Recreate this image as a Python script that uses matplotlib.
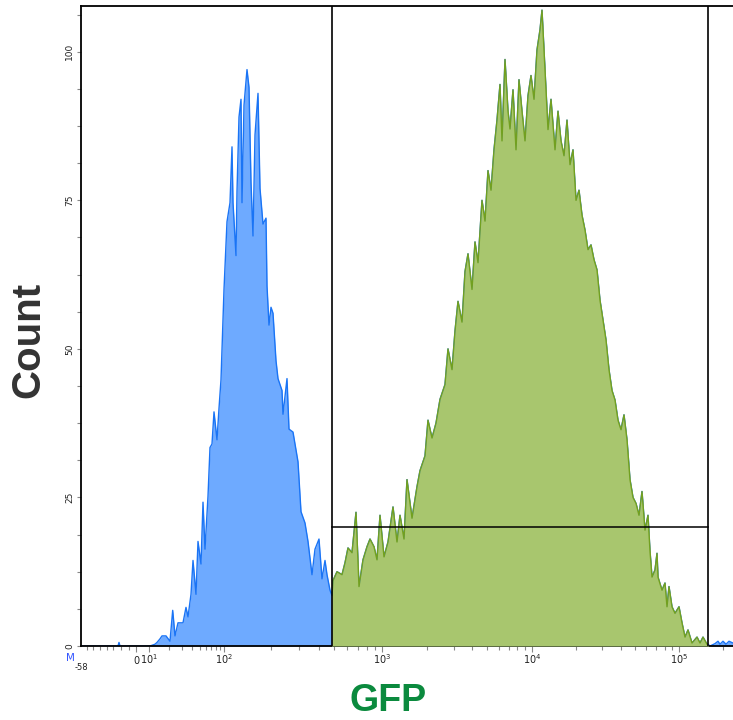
import numpy as np
import matplotlib
matplotlib.use("Agg")
import matplotlib.pyplot as plt
from matplotlib.patches import Rectangle
from matplotlib.ticker import FixedLocator, FixedFormatter

# ---------------- data ----------------
# display channel (0 = left edge of axis, -58) and event count per channel
channel = [0, 37, 38, 39, 41, 69, 74, 76, 79, 81, 85, 89, 91.7, 94, 97, 102, 105, 107, 110,
           112, 115, 117, 120, 122, 124, 127, 129, 131, 133, 136, 138, 140, 142, 143, 146, 149,
           151, 152, 155, 156, 158, 160, 161, 163, 166, 168, 170, 172, 174, 177, 179, 182, 185,
           186, 188, 190, 192, 195, 197, 201, 202, 206, 208, 212, 217, 220, 224, 227, 231, 234,
           238, 241, 244, 246, 249, 251,
           252, 256, 261, 264, 267, 271, 275, 278, 282, 286, 289, 293, 296, 299, 303, 307, 312,
           316, 319, 323, 326, 331, 336, 339, 344, 347, 351, 355, 359, 364, 367, 371, 374, 377,
           381, 384, 387, 391, 394, 397, 401, 404, 407, 410, 413, 416, 419, 421, 424, 427, 429,
           432, 435, 438, 441, 444, 447, 450, 453, 456, 459, 461, 464, 467, 470, 474, 477, 480,
           483, 486, 489, 492, 495, 498, 501, 504, 507, 510, 513, 516, 519, 522, 525, 528, 531,
           534, 537, 540, 543, 546, 549, 552, 555, 558, 561, 564, 567, 569, 571, 574, 576, 577,
           581, 584, 586, 588, 591, 594, 598, 601, 604, 607, 611, 616, 619, 622, 626, 627,
           629, 634, 637, 639, 642, 645, 648, 652]
count = [0, 0, 0.6, 0, 0, 0, 0.3, 0.6, 1.2, 1.7, 1.7, 0.8, 6.0, 1.7, 3.9, 3.9, 6.5, 4.9, 8.7,
         14.4, 8.7, 17.6, 13.8, 24.2, 16.3, 25.2, 33.4, 34.0, 39.4, 34.7, 40.0, 44.8, 55.0, 60.0,
         71.4, 74.6, 84.0, 74.6, 65.7, 76.5, 89.0, 92.0, 74.6, 91.0, 97.0, 94.0, 78.0, 69.0, 86.0,
         93.0, 77.0, 71.0, 72.0, 60.6, 54.0, 57.0, 56.0, 48.0, 45.0, 43.0, 39.0, 45.0, 36.5,
         36.0, 31.0, 22.6, 20.7, 17.6, 12.0, 16.3, 18.0, 11.3, 14.4, 12.0, 9.4, 8.5,
         11.0, 12.5, 12.0, 14.0, 16.5, 15.7, 22.5, 10.0, 14.5, 16.7, 18.0, 16.7, 14.5, 22.0,
         15.0, 17.5, 23.4, 17.5, 22.0, 18.0, 28.0, 21.5, 26.8, 29.5, 32.0, 38.0, 35.0, 37.5,
         41.5, 44.0, 50.0, 46.5, 53.0, 58.0, 54.5, 63.0, 66.0, 60.0, 68.0, 64.5, 75.0, 71.5,
         80.0, 76.7, 83.5, 88.5, 94.5, 85.0, 98.7, 90.0, 87.0, 93.6, 83.5, 95.3, 90.0, 85.0,
         92.6, 96.0, 92.0, 100.3, 103.7, 107.0, 97.0, 86.9, 92.0, 83.5, 90.0, 85.0, 82.5, 88.5,
         81.0, 83.5, 75.0, 76.7, 72.5, 70.0, 66.7, 67.5, 65.0, 63.3, 58.2, 54.9, 51.5, 46.5,
         43.0, 41.4, 38.0, 36.4, 38.9, 34.7, 28.0, 25.0, 24.0, 22.0, 26.0, 19.5, 22.0, 16.0,
         11.6, 12.8, 15.6, 11.6, 9.4, 10.6, 6.6, 10.0, 6.6, 5.5, 6.6, 3.9, 1.5, 2.7, 0.5, 1.5,
         0.5, 1.5, 0.3, 0.3,
         0, 0.4, 0.8, 0.3, 0.8, 0.3, 0.8, 0.5]

gate_low = 483
gate_high = 157000
gate_level = 20

y_ticks = [0, 25, 50, 75, 100]
x_major = [0, 10, 100, 1000, 10000, 100000]
x_major_labels = ["0", r"$10^1$", r"$10^2$", r"$10^3$", r"$10^4$", r"$10^5$"]
x_minor_negative = [-44, -34, -24, -17, -12, -7, -3]

# ------------- biexponential-like display scale -------------
anchor_vals = np.array([-58, 0, 10, 100, 1e3, 1e4, 1e5, 1e6])
anchor_chan = np.array([0, 55, 68, 143, 301, 451, 598, 745], dtype=float)


def g(v):
    return np.arcsinh(np.asarray(v, dtype=float) / 10.0) / np.log(10)


def ginv(u):
    return 10.0 * np.sinh(np.asarray(u, dtype=float) * np.log(10))


anchor_g = g(anchor_vals)


def forward(v):
    return np.interp(g(v), anchor_g, anchor_chan, left=-1e3, right=2e3)


def inverse(c):
    return ginv(np.interp(c, anchor_chan, anchor_g))


x_vals = inverse(np.array(channel, dtype=float))
y_vals = np.array(count)

# ---------------- figure ----------------
W, H = 733, 720
fig = plt.figure(figsize=(W / 100, H / 100), dpi=100)
ax = fig.add_axes([81 / W, (H - 646) / H, (W - 81) / W, 640 / H])
ax.set_xscale("function", functions=(forward, inverse))
ax.set_xlim(-58, float(inverse(652)))
ax.set_ylim(0, 107.7)

blue_fill = "#6eaaff"
blue_line = "#1a74f5"
green_fill = "#a8c66e"
green_line = "#72a020"

ax.fill_between(x_vals, 0, y_vals, color=blue_fill, lw=0, zorder=1)
ax.plot(x_vals, y_vals, color=blue_line, lw=1.0, zorder=2)

clip = Rectangle((gate_low, 0), gate_high - gate_low, 200, transform=ax.transData)
gf = ax.fill_between(x_vals, 0, y_vals, color=green_fill, lw=0, zorder=3)
gf.set_clip_path(clip)
gl, = ax.plot(x_vals, y_vals, color=green_line, lw=1.0, zorder=4)
gl.set_clip_path(clip)

# gate marker
ax.axvline(gate_low, color="black", lw=1.2, zorder=5)
ax.axvline(gate_high, color="black", lw=1.2, zorder=5)
ax.plot([gate_low, gate_high], [gate_level, gate_level], color="black", lw=1.1, zorder=5)

for s in ["left", "bottom", "top"]:
    ax.spines[s].set_linewidth(1.3)
    ax.spines[s].set_color("black")
ax.spines["right"].set_visible(False)

# y axis ticks
ax.yaxis.set_major_locator(FixedLocator(y_ticks))
ax.yaxis.set_minor_locator(FixedLocator(np.arange(0, 107.7, 6.25)))
ax.set_yticklabels([str(t) for t in y_ticks], rotation=90, va="center",
                   fontsize=6.5, family="DejaVu Sans", color="#222222")
ax.tick_params(axis="y", which="major", length=3, width=0.8, color="#888888", pad=2)
ax.tick_params(axis="y", which="minor", length=3, width=0.8, color="#888888")

# x axis ticks
ax.xaxis.set_major_locator(FixedLocator(x_major))
ax.xaxis.set_major_formatter(FixedFormatter(x_major_labels))
minors = list(x_minor_negative)
for d in [10, 100, 1000, 10000, 100000]:
    minors += [k * d for k in range(2, 10)]
ax.xaxis.set_minor_locator(FixedLocator(minors))
ax.tick_params(axis="x", which="major", length=4, width=0.8, color="#888888", pad=9,
               labelsize=7)
ax.tick_params(axis="x", which="minor", length=3, width=0.8, color="#888888")
for lab in ax.get_xticklabels():
    lab.set_family("DejaVu Sans")
    lab.set_verticalalignment("baseline")
    lab.set_color("#222222")

ax.text(-58, -2.9, "-58", transform=ax.transData, ha="center", va="top",
        fontsize=6, family="DejaVu Sans", color="#222222")
fig.text(70 / W, 1 - 658 / H, "M", ha="center", va="center", fontsize=7.5,
         color="#3355ff", family="DejaVu Sans")

fig.text(28 / W, 1 - 340 / H, "Count", rotation=90, ha="center", va="center",
         fontsize=29, fontweight="bold", family="Liberation Sans", color="#333333")
fig.text(388 / W, 1 - 711 / H, "GFP", ha="center", va="baseline",
         fontsize=27, fontweight="bold", family="Liberation Sans", color="#0b8a3e")

fig.savefig("out.png", dpi=100)
